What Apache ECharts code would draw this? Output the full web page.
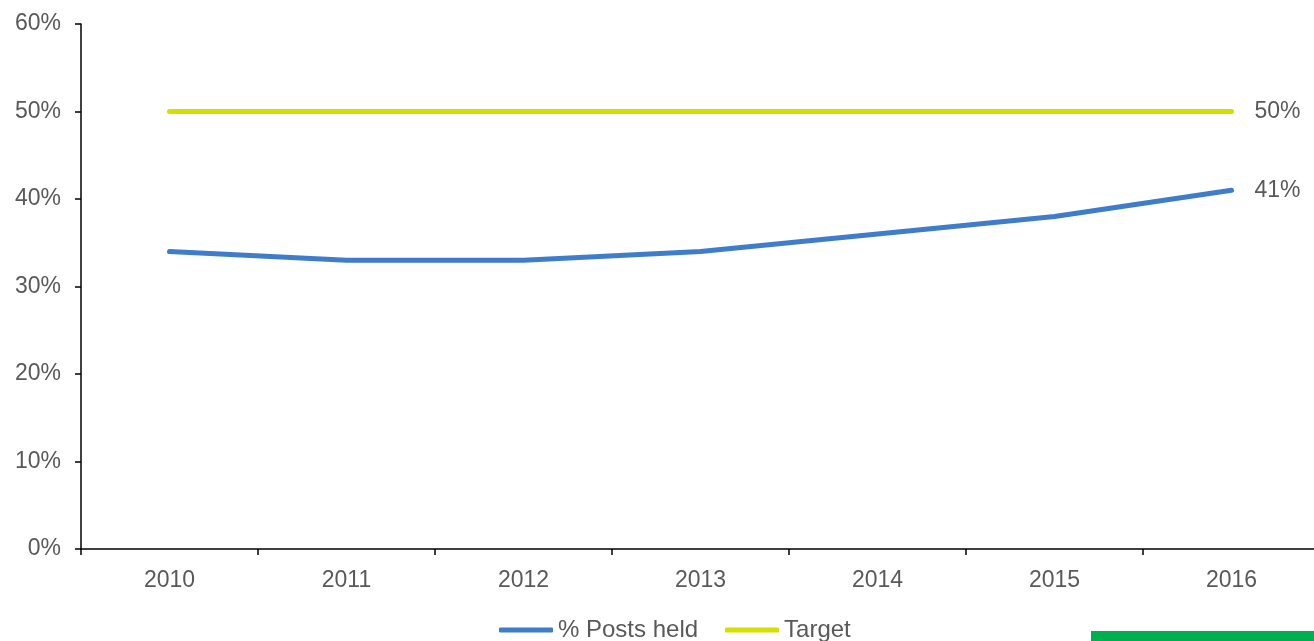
<!DOCTYPE html>
<html>
<head>
<meta charset="utf-8">
<style>
  html, body { margin: 0; padding: 0; background: #ffffff; }
  #chart { width: 1314px; height: 641px; }
</style>
<script src="https://cdn.jsdelivr.net/npm/echarts@6/dist/echarts.min.js"></script>
</head>
<body>
<div id="chart"></div>
<script>
// Share of posts held, with the 50% target
const years = ['2010', '2011', '2012', '2013', '2014', '2015', '2016'];
const postsHeld = [34, 33, 33, 34, 36, 38, 41];
const target = [50, 50, 50, 50, 50, 50, 50];
const seriesNames = ['% Posts held', 'Target'];

const textColor = '#595959';
const font = 'Liberation Sans, Arial, sans-serif';

const chart = echarts.init(document.getElementById('chart'), null, { renderer: 'canvas' });

function lineSeries(name, data, color) {
  return {
    name: name,
    type: 'line',
    data: data,
    symbol: 'none',
    lineStyle: { color: color, width: 5, cap: 'round', join: 'round' },
    itemStyle: { color: color },
    endLabel: {
      show: true,
      formatter: p => p.value + '%',
      color: textColor,
      fontFamily: font,
      fontSize: 23,
      distance: 23
    },
    animation: false
  };
}

chart.setOption({
  backgroundColor: '#ffffff',
  animation: false,
  // plot area runs a little past the right edge of the canvas
  grid: { left: 81, top: 24, width: 1239, height: 525, outerBoundsMode: 'none' },
  legend: {
    top: 618,
    left: 499,
    padding: 0,
    itemWidth: 54,
    itemHeight: 5,
    itemGap: 27,
    icon: 'roundRect',
    textStyle: { color: textColor, fontFamily: font, fontSize: 24, padding: [0, 0, 0, 0] },
    data: seriesNames
  },
  xAxis: {
    type: 'category',
    data: years,
    boundaryGap: true,
    axisLine: { lineStyle: { color: '#000000', width: 1.5 } },
    axisTick: { show: true, length: 6, lineStyle: { color: '#000000', width: 1.5 } },
    axisLabel: { color: textColor, fontFamily: font, fontSize: 23, margin: 20 },
    splitLine: { show: false }
  },
  yAxis: {
    type: 'value',
    min: 0,
    max: 60,
    interval: 10,
    axisLine: { show: true, lineStyle: { color: '#000000', width: 1.5 } },
    axisTick: { show: true, length: 6, lineStyle: { color: '#000000', width: 1.5 } },
    axisLabel: { color: textColor, fontFamily: font, fontSize: 23, margin: 20, formatter: '{value}%' },
    splitLine: { show: false }
  },
  series: [
    lineSeries(seriesNames[0], postsHeld, '#3f7cca'),
    lineSeries(seriesNames[1], target, '#d4df00')
  ],
  graphic: [
    {
      type: 'rect',
      right: 0,
      bottom: 0,
      shape: { width: 223, height: 10 },
      style: { fill: '#00b050' }
    }
  ]
});
</script>
</body>
</html>
